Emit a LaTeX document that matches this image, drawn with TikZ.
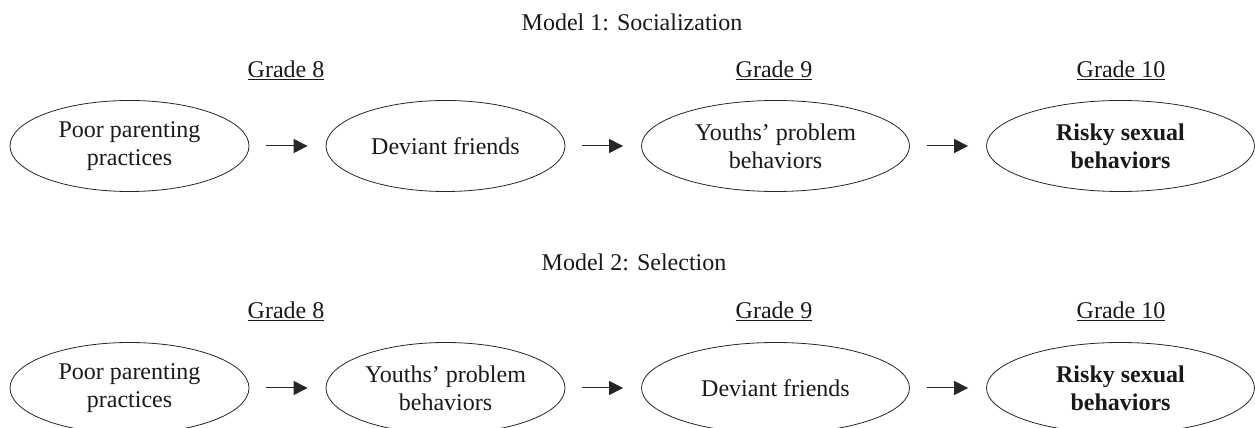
\documentclass[tikz,border=0pt]{standalone}
\usepackage{fontspec}
\setmainfont{Liberation Serif}
\usetikzlibrary{shapes.geometric,arrows.meta}
\tikzset{
  base/.style={font=\fontsize{24}{28}\selectfont, text=black!90},
  oval/.style={base, draw=black!85, line width=0.8pt, ellipse, minimum height=91pt, inner sep=0pt, align=center},
  narrow/.style={oval, minimum width=239pt},
  wide/.style={oval, minimum width=268pt},
  heading/.style={base},
  grade/.style={base},
  arr/.style={draw=black!85, line width=1pt, -{Triangle[length=14pt,width=14pt]}, shorten <=17pt, shorten >=18pt}
}
\begin{document}
\begin{tikzpicture}[x=1pt,y=1pt]
\useasboundingbox (0,0) rectangle (1255,428);
\clip (0,0) rectangle (1255,428);
% Model 1
\node[heading] (t1) at (632,406) {Model 1: Socialization};
\node[grade] (g18) at (286,358) {\underline{Grade 8}};
\node[grade] (g19) at (774,358) {\underline{Grade 9}};
\node[grade] (g110) at (1121,358) {\underline{Grade 10}};
\node[narrow] (a1) at (129.5,282) {Poor parenting\\practices};
\node[narrow] (a2) at (445.5,282) {Deviant friends};
\node[wide] (a3) at (775.5,282) {Youths’ problem\\behaviors};
\node[wide] (a4) at (1120.5,282) {\bfseries Risky sexual\\\bfseries behaviors};
\draw[arr] (a1.east) -- (a2.west);
\draw[arr] (a2.east) -- (a3.west);
\draw[arr] (a3.east) -- (a4.west);
% Model 2
\node[heading] (t2) at (634,166) {Model 2: Selection};
\node[grade] (g28) at (286,117) {\underline{Grade 8}};
\node[grade] (g29) at (774,117) {\underline{Grade 9}};
\node[grade] (g210) at (1121,117) {\underline{Grade 10}};
\node[narrow] (b1) at (129.5,40) {Poor parenting\\practices};
\node[narrow] (b2) at (445.5,40) {Youths’ problem\\behaviors};
\node[wide] (b3) at (775.5,40) {Deviant friends};
\node[wide] (b4) at (1120.5,40) {\bfseries Risky sexual\\\bfseries behaviors};
\draw[arr] (b1.east) -- (b2.west);
\draw[arr] (b2.east) -- (b3.west);
\draw[arr] (b3.east) -- (b4.west);
\end{tikzpicture}
\end{document}
